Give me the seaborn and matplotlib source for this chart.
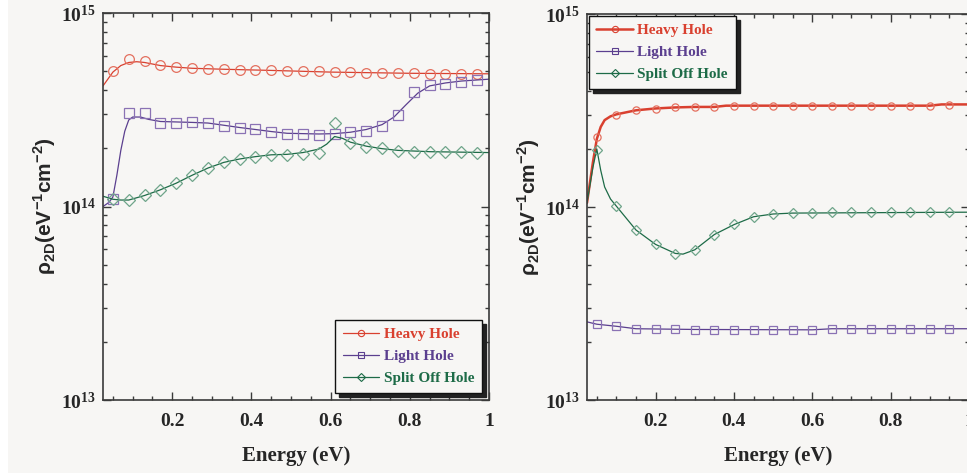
import numpy as np
import pandas as pd
import matplotlib
matplotlib.use("Agg")
import matplotlib.pyplot as plt
import matplotlib.ticker as mticker
from matplotlib.lines import Line2D
from matplotlib.patches import Rectangle
import seaborn as sns

# ---- data (values in eV^-1 cm^-2) ----
# left panel: markers every 0.04 eV
left_mark_x = [0.05, 0.09, 0.13, 0.17, 0.21, 0.25, 0.29, 0.33, 0.37, 0.41, 0.45, 0.49,
               0.53, 0.57, 0.61, 0.65, 0.69, 0.73, 0.77, 0.81, 0.85, 0.89, 0.93, 0.97]
left_heavy_mark = [5.0e14, 5.8e14, 5.66e14, 5.38e14, 5.26e14, 5.2e14, 5.13e14, 5.13e14,
                   5.07e14, 5.07e14, 5.07e14, 5.02e14, 5.02e14, 5.02e14, 4.93e14, 4.93e14,
                   4.87e14, 4.87e14, 4.87e14, 4.87e14, 4.82e14, 4.82e14, 4.82e14, 4.85e14]
left_light_mark = [1.09e14, 3.06e14, 3.06e14, 2.70e14, 2.70e14, 2.73e14, 2.70e14, 2.62e14,
                   2.56e14, 2.50e14, 2.44e14, 2.38e14, 2.38e14, 2.35e14, 2.38e14, 2.42e14,
                   2.46e14, 2.61e14, 2.96e14, 3.89e14, 4.25e14, 4.31e14, 4.41e14, 4.49e14]
left_split_mark = [1.09e14, 1.08e14, 1.14e14, 1.21e14, 1.32e14, 1.45e14, 1.58e14, 1.69e14,
                   1.75e14, 1.80e14, 1.84e14, 1.84e14, 1.87e14, 1.89e14, 2.70e14, 2.14e14,
                   2.04e14, 2.00e14, 1.94e14, 1.92e14, 1.91e14, 1.91e14, 1.91e14, 1.90e14]

# left panel: smooth curves
left_heavy_line_x = [0.025, 0.05, 0.07, 0.09, 0.11, 0.13, 0.17, 0.21, 0.25, 0.33, 0.45, 0.6, 0.8, 1.0]
left_heavy_line = [4.2e14, 4.95e14, 5.35e14, 5.55e14, 5.6e14, 5.55e14, 5.35e14, 5.25e14,
                   5.18e14, 5.12e14, 5.05e14, 4.95e14, 4.88e14, 4.85e14]
left_light_line_x = [0.025, 0.04, 0.05, 0.06, 0.07, 0.08, 0.09, 0.10, 0.12, 0.14, 0.17, 0.25,
                     0.29, 0.33, 0.37, 0.41, 0.45, 0.49, 0.57, 0.61, 0.65, 0.69, 0.73, 0.76,
                     0.79, 0.82, 0.85, 0.89, 0.93, 1.0]
left_light_line = [1.0e14, 1.05e14, 1.12e14, 1.45e14, 1.95e14, 2.45e14, 2.8e14, 2.9e14, 2.9e14,
                   2.82e14, 2.75e14, 2.72e14, 2.7e14, 2.63e14, 2.56e14, 2.5e14, 2.44e14, 2.39e14,
                   2.37e14, 2.38e14, 2.42e14, 2.5e14, 2.65e14, 2.9e14, 3.35e14, 3.85e14, 4.2e14,
                   4.35e14, 4.45e14, 4.55e14]
left_split_line_x = [0.025, 0.05, 0.07, 0.09, 0.13, 0.17, 0.21, 0.25, 0.29, 0.33, 0.37, 0.41,
                     0.45, 0.49, 0.53, 0.57, 0.59, 0.61, 0.63, 0.65, 0.69, 0.73, 0.77, 0.85, 1.0]
left_split_line = [1.13e14, 1.09e14, 1.08e14, 1.08e14, 1.14e14, 1.22e14, 1.32e14, 1.45e14,
                   1.58e14, 1.69e14, 1.76e14, 1.81e14, 1.85e14, 1.86e14, 1.9e14, 1.98e14,
                   2.1e14, 2.3e14, 2.25e14, 2.15e14, 2.05e14, 1.99e14, 1.95e14, 1.92e14, 1.9e14]

# right panel: markers every 0.05 eV
right_mark_x = [0.05, 0.10, 0.15, 0.20, 0.25, 0.30, 0.35, 0.40, 0.45, 0.50, 0.55, 0.60,
                0.65, 0.70, 0.75, 0.80, 0.85, 0.90, 0.95]
right_heavy_mark = [2.30e14, 3.0e14, 3.17e14, 3.23e14, 3.28e14, 3.3e14, 3.3e14, 3.35e14,
                    3.35e14, 3.35e14, 3.35e14, 3.35e14, 3.35e14, 3.35e14, 3.35e14, 3.35e14,
                    3.35e14, 3.35e14, 3.39e14]
right_light_mark = [2.47e13, 2.41e13, 2.34e13, 2.34e13, 2.34e13, 2.31e13, 2.31e13, 2.31e13,
                    2.31e13, 2.31e13, 2.31e13, 2.31e13, 2.34e13, 2.34e13, 2.34e13, 2.34e13,
                    2.34e13, 2.34e13, 2.34e13]
right_split_mark = [1.97e14, 1.01e14, 7.6e13, 6.41e13, 5.7e13, 5.98e13, 7.2e13, 8.13e13,
                    8.9e13, 9.17e13, 9.3e13, 9.34e13, 9.4e13, 9.4e13, 9.4e13, 9.4e13,
                    9.4e13, 9.4e13, 9.4e13]

right_heavy_line_x = [0.025, 0.04, 0.05, 0.06, 0.07, 0.085, 0.10, 0.15, 0.2, 0.25, 0.3, 0.35,
                      0.38, 0.9, 0.93, 1.0]
right_heavy_line = [1.05e14, 1.7e14, 2.25e14, 2.6e14, 2.82e14, 2.95e14, 3.02e14, 3.17e14,
                    3.24e14, 3.28e14, 3.3e14, 3.3e14, 3.35e14, 3.35e14, 3.4e14, 3.4e14]
right_split_line_x = [0.025, 0.04, 0.05, 0.06, 0.07, 0.085, 0.10, 0.15, 0.2, 0.25, 0.27, 0.30,
                      0.35, 0.40, 0.45, 0.50, 0.55, 1.0]
right_split_line = [1.05e14, 1.6e14, 2.0e14, 1.55e14, 1.27e14, 1.1e14, 1.01e14, 7.6e13,
                    6.4e13, 5.75e13, 5.7e13, 6.0e13, 7.2e13, 8.1e13, 8.9e13, 9.2e13, 9.3e13, 9.4e13]
right_light_line_x = [0.025, 0.05, 0.10, 0.15, 0.30, 0.60, 0.65, 1.0]
right_light_line = [2.54e13, 2.47e13, 2.41e13, 2.34e13, 2.32e13, 2.31e13, 2.34e13, 2.34e13]

labels = ["Heavy Hole", "Light Hole", "Split Off Hole"]
x_ticks = [0.2, 0.4, 0.6, 0.8, 1.0]
x_tick_labels = ["0.2", "0.4", "0.6", "0.8", "1"]

# ---- style ----
bg = "#f7f6f4"
line_cols = ["#d9402f", "#5b3f8f", "#1d6b47"]
mark_cols = ["#e4705f", "#8a72b4", "#6fa58a"]
markers = ["o", "s", "D"]

sns.set_theme(style="ticks")
plt.rcParams["font.family"] = ["Liberation Serif", "DejaVu Serif"]
plt.rcParams["font.weight"] = "bold"
plt.rcParams["axes.labelweight"] = "bold"

fig = plt.figure(figsize=(9.67, 4.73), dpi=100, facecolor=bg)
fig.patches.append(Rectangle((0, 0), 8 / 967, 1, transform=fig.transFigure,
                             facecolor="white", edgecolor="none", zorder=0))
ax1 = fig.add_axes([103 / 967, 73 / 473, 386 / 967, 387 / 473])
ax2 = fig.add_axes([587 / 967, 73 / 473, 382 / 967, 386 / 473])


def draw_series(ax, lx, ly, mx, my, col, mcol, mk, lw, ms):
    sns.lineplot(x=lx, y=ly, ax=ax, color=col, linewidth=lw, estimator=None, sort=False)
    sns.lineplot(x=mx, y=my, ax=ax, linestyle="", marker=mk, markersize=ms,
                 markerfacecolor="none", markeredgecolor=mcol, markeredgewidth=0.9,
                 estimator=None, sort=False)


left_sets = [
    (left_heavy_line_x, left_heavy_line, left_mark_x, left_heavy_mark),
    (left_light_line_x, left_light_line, left_mark_x, left_light_mark),
    (left_split_line_x, left_split_line, left_mark_x, left_split_mark),
]
for i, (lx, ly, mx, my) in enumerate(left_sets):
    ms = 7 if markers[i] != "D" else 6.3
    draw_series(ax1, lx, ly, mx, my, line_cols[i], mark_cols[i], markers[i], 0.9, ms)

right_sets = [
    (right_heavy_line_x, right_heavy_line, right_mark_x, right_heavy_mark),
    (right_light_line_x, right_light_line, right_mark_x, right_light_mark),
    (right_split_line_x, right_split_line, right_mark_x, right_split_mark),
]
right_lw = [1.8, 0.9, 0.9]
for i, (lx, ly, mx, my) in enumerate(right_sets):
    ms = 5.2 if markers[i] != "D" else 4.8
    draw_series(ax2, lx, ly, mx, my, line_cols[i], mark_cols[i], markers[i], right_lw[i], ms)


def style_axes(ax):
    ax.set_facecolor(bg)
    ax.set_yscale("log")
    ax.set_xlim(0.025, 1.0)
    ax.set_ylim(1e13, 1e15)
    ax.set_xticks(x_ticks)
    ax.set_xticklabels(x_tick_labels)
    ax.xaxis.set_minor_locator(mticker.MultipleLocator(0.05))
    ax.yaxis.set_minor_formatter(mticker.NullFormatter())
    for s in ax.spines.values():
        s.set_visible(True)
        s.set_color("#3a3a3a")
        s.set_linewidth(1.2)
    ax.tick_params(which="both", direction="in", top=True, right=True,
                   color="#3a3a3a", width=1.0)
    ax.tick_params(which="major", length=6)
    ax.tick_params(which="minor", length=3)
    ax.tick_params(axis="x", which="major", pad=9, labelsize=14)
    ax.tick_params(axis="y", which="major", pad=5, labelsize=14)
    ax.set_xlabel("Energy (eV)", fontsize=15, labelpad=12)
    ax.set_ylabel(r"ρ$_{\mathdefault{2D}}$(eV$^{\mathdefault{-1}}$cm$^{\mathdefault{-2}}$)",
                  fontsize=15, fontfamily="Liberation Sans", fontweight="bold", labelpad=2)


style_axes(ax1)
style_axes(ax2)


def make_legend(ax, lws, loc, pad):
    handles = []
    for i in range(3):
        handles.append(Line2D([], [], color=line_cols[i], linewidth=lws[i], marker=markers[i],
                              markersize=4.5 if markers[i] != "D" else 4,
                              markerfacecolor="none", markeredgecolor=line_cols[i],
                              markeredgewidth=0.8))
    leg = ax.legend(handles, labels, loc=loc, fontsize=11, numpoints=1,
                    frameon=True, fancybox=False, framealpha=1, facecolor=bg,
                    edgecolor="#111111", borderpad=0.5, labelspacing=0.55,
                    handlelength=2.4, handletextpad=0.3, borderaxespad=pad,
                    shadow={"color": "#222222", "alpha": 1, "ox": 3, "oy": -3})
    leg.get_frame().set_linewidth(1.0)
    for t, c in zip(leg.get_texts(), line_cols):
        t.set_color(c)
    return leg


make_legend(ax1, [0.9, 0.9, 0.9], "lower right", 0.45)
make_legend(ax2, [1.8, 0.9, 0.9], "upper left", 0.1)

fig.savefig("out.png", dpi=100, facecolor=bg)
